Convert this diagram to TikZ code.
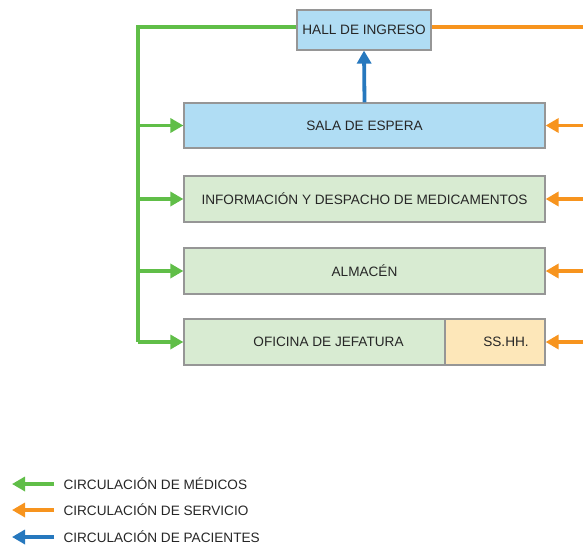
\documentclass[tikz,border=0pt]{standalone}
\usepackage{fontspec}
\setmainfont{Liberation Sans}
\usetikzlibrary{arrows.meta}
\definecolor{cgreen}{RGB}{96,190,72}
\definecolor{corange}{RGB}{247,148,30}
\definecolor{cblue}{RGB}{38,120,190}
\definecolor{fblue}{RGB}{176,221,244}
\definecolor{fgreen}{RGB}{216,235,210}
\definecolor{fyellow}{RGB}{253,231,185}
\definecolor{cborder}{RGB}{150,150,150}
\definecolor{cdark}{RGB}{60,60,60}
\tikzset{
  room/.style={draw=cborder, line width=1.2pt, minimum height=46pt, inner sep=0pt, font=\fontsize{13.6}{15}\selectfont, text=black!85,
    append after command={\pgfextra{\let\tmpnode\tikzlastnode}
      [draw=cdark, line width=1.2pt] (\tmpnode.north east) -- (\tmpnode.south east) -- (\tmpnode.south west)}},
  flow/.style={line width=3.8pt, -{Triangle[length=13pt,width=14pt]}},
  leg/.style={font=\fontsize{13.6}{15}\selectfont, text=black!85, anchor=west},
}
\begin{document}
\begin{tikzpicture}[x=1pt,y=-1pt]
\useasboundingbox (0,0) rectangle (583,548);
% nodes
\node[room, fill=fblue, minimum width=134pt, minimum height=40pt] (hall) at (364,30) {HALL DE INGRESO};
\node[room, fill=fblue, minimum width=361pt, minimum height=45pt] (sala) at (364.5,125.5) {SALA DE ESPERA};
\node[room, fill=fgreen, minimum width=361pt] (info) at (364.5,199) {INFORMACIÓN Y DESPACHO DE MEDICAMENTOS};
\node[room, fill=fgreen, minimum width=361pt] (alm) at (364.5,271) {ALMACÉN};
\node[room, fill=fgreen, minimum width=261pt] (ofi) at (314.5,342) {\hspace*{28pt}OFICINA DE JEFATURA};
\node[room, fill=fyellow, minimum width=100pt] (ss) at (495,342) {\hspace*{22pt}SS.HH.};
% coordinates
\coordinate (gtop) at (138,27);
\coordinate (g1) at (138,125.5);
\coordinate (g2) at (138,199);
\coordinate (g3) at (138,271);
\coordinate (g4) at (138,342);
\coordinate (otop) at (583,27);
\coordinate (o1) at (583,125.5);
\coordinate (o2) at (583,199);
\coordinate (o3) at (583,271);
\coordinate (o4) at (583,342);
% green
\draw[cgreen, line width=3.8pt] (hall.west |- gtop) -- (gtop) -- (g4);
\draw[flow, cgreen] (g1) -- (sala.west);
\draw[flow, cgreen] (g2) -- (info.west);
\draw[flow, cgreen] (g3) -- (alm.west);
\draw[flow, cgreen] (g4) -- (ofi.west);
% orange
\draw[corange, line width=3.8pt] (hall.east |- otop) -- (otop);
\draw[flow, corange] (o1) -- (sala.east);
\draw[flow, corange] (o2) -- (info.east);
\draw[flow, corange] (o3) -- (alm.east);
\draw[flow, corange] (o4) -- (ss.east);
% blue
\draw[flow, cblue] (sala.north) -- (hall.south);
% legend
\coordinate (l1a) at (54,484); \coordinate (l1b) at (12,484);
\coordinate (l2a) at (54,510); \coordinate (l2b) at (12,510);
\coordinate (l3a) at (54,537); \coordinate (l3b) at (12,537);
\draw[flow, cgreen] (l1a) -- (l1b);
\draw[flow, corange] (l2a) -- (l2b);
\draw[flow, cblue] (l3a) -- (l3b);
\node[leg] (t1) at (60,484) {CIRCULACIÓN DE MÉDICOS};
\node[leg] (t2) at (60,510) {CIRCULACIÓN DE SERVICIO};
\node[leg] (t3) at (60,537) {CIRCULACIÓN DE PACIENTES};
\end{tikzpicture}
\end{document}
